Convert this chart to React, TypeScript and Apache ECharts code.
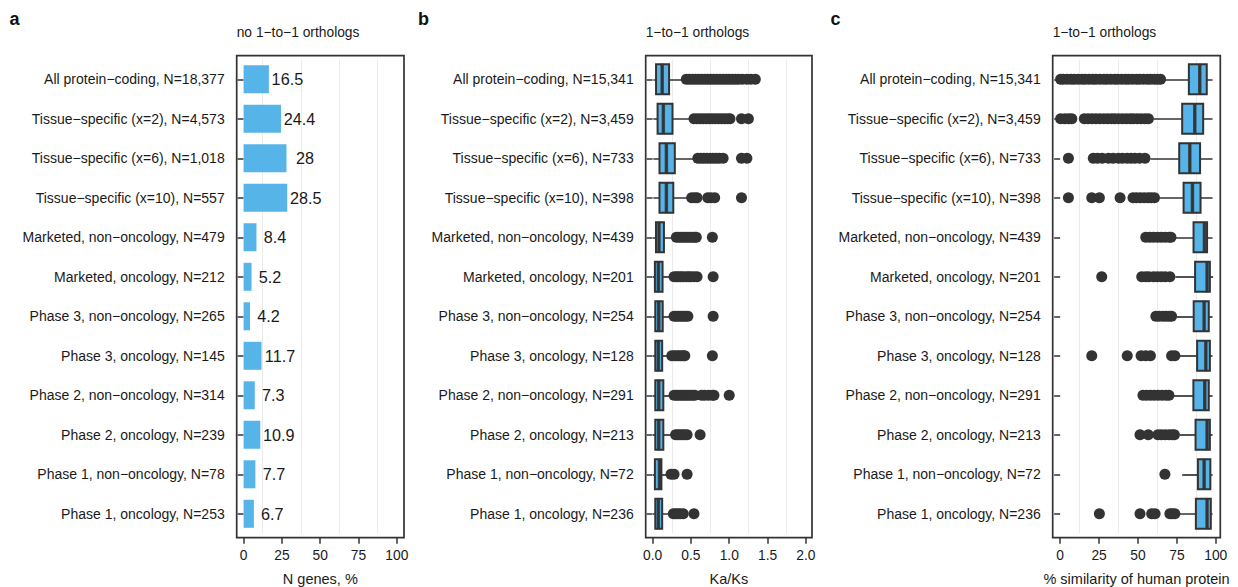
import React, { useEffect, useRef } from 'react';
import * as echarts from 'echarts';

// ---------- data ----------
const catsA = [
  'All protein−coding, N=18,377',
  'Tissue−specific (x=2), N=4,573',
  'Tissue−specific (x=6), N=1,018',
  'Tissue−specific (x=10), N=557',
  'Marketed, non−oncology, N=479',
  'Marketed, oncology, N=212',
  'Phase 3, non−oncology, N=265',
  'Phase 3, oncology, N=145',
  'Phase 2, non−oncology, N=314',
  'Phase 2, oncology, N=239',
  'Phase 1, non−oncology, N=78',
  'Phase 1, oncology, N=253',
];
const catsBC = [
  'All protein−coding, N=15,341',
  'Tissue−specific (x=2), N=3,459',
  'Tissue−specific (x=6), N=733',
  'Tissue−specific (x=10), N=398',
  'Marketed, non−oncology, N=439',
  'Marketed, oncology, N=201',
  'Phase 3, non−oncology, N=254',
  'Phase 3, oncology, N=128',
  'Phase 2, non−oncology, N=291',
  'Phase 2, oncology, N=213',
  'Phase 1, non−oncology, N=72',
  'Phase 1, oncology, N=236',
];
const pctNoOrtholog = [16.5, 24.4, 28, 28.5, 8.4, 5.2, 4.2, 11.7, 7.3, 10.9, 7.7, 6.7];

// [lower whisker, Q1, median, Q3, upper whisker]
const kaksBox = [
  [0.01, 0.045, 0.125, 0.215, 0.43],
  [0.01, 0.065, 0.14, 0.26, 0.52],
  [0.01, 0.09, 0.18, 0.29, 0.55],
  [0.01, 0.09, 0.18, 0.27, 0.47],
  [0.005, 0.044, 0.083, 0.148, 0.29],
  [0.005, 0.03, 0.075, 0.13, 0.26],
  [0.005, 0.035, 0.08, 0.132, 0.26],
  [0.005, 0.035, 0.075, 0.125, 0.24],
  [0.005, 0.035, 0.08, 0.14, 0.27],
  [0.005, 0.035, 0.08, 0.14, 0.28],
  [0.005, 0.03, 0.09, 0.115, 0.2],
  [0.005, 0.035, 0.075, 0.125, 0.25],
];
const kaksOutliers = [
  [0.44, 0.48, 0.52, 0.56, 0.6, 0.64, 0.68, 0.72, 0.76, 0.8, 0.84, 0.88, 0.92, 0.96, 1.0, 1.04, 1.08, 1.12, 1.17, 1.23, 1.28, 1.34],
  [0.54, 0.58, 0.62, 0.66, 0.7, 0.74, 0.78, 0.82, 0.86, 0.9, 0.94, 0.98, 1.01, 1.16, 1.25],
  [0.59, 0.63, 0.67, 0.71, 0.75, 0.79, 0.83, 0.87, 0.92, 1.16, 1.23],
  [0.51, 0.55, 0.58, 0.72, 0.76, 0.81, 1.16],
  [0.31, 0.34, 0.37, 0.4, 0.43, 0.46, 0.49, 0.52, 0.55, 0.57, 0.78],
  [0.28, 0.31, 0.34, 0.37, 0.4, 0.44, 0.47, 0.5, 0.54, 0.58, 0.79],
  [0.28, 0.31, 0.34, 0.37, 0.4, 0.43, 0.46, 0.79],
  [0.25, 0.28, 0.31, 0.34, 0.37, 0.4, 0.42, 0.78],
  [0.28, 0.31, 0.34, 0.37, 0.4, 0.43, 0.46, 0.49, 0.52, 0.55, 0.64, 0.68, 0.73, 0.78, 0.8, 1.0],
  [0.3, 0.33, 0.36, 0.39, 0.42, 0.45, 0.62],
  [0.24, 0.28, 0.45],
  [0.27, 0.3, 0.33, 0.36, 0.4, 0.54],
];
const simBox = [
  [65.5, 82.7, 89.7, 94.2, 97.9],
  [60, 78.4, 86.5, 91.9, 97.9],
  [58, 76.5, 83.3, 89.9, 97.9],
  [64, 79.3, 85, 90.2, 97.9],
  [74, 85.7, 92.7, 94.4, 97.9],
  [74, 86.7, 94.4, 96.2, 98.3],
  [75, 85.8, 92.5, 95.5, 97.9],
  [77, 88, 93.6, 96.2, 97.9],
  [73, 85.6, 92.9, 95.5, 97.9],
  [77, 87, 94.4, 96.2, 97.9],
  [78.4, 88.5, 92.5, 96.5, 97.9],
  [76, 87.2, 94.4, 96.8, 97.9],
];
const simOutliers = [
  [0.3, 2, 4.5, 7, 9, 11.5, 14, 16, 18.5, 21, 23, 25.5, 28, 30, 32.5, 35, 37, 39.5, 42, 44, 46.5, 49, 51, 53.5, 56, 58, 60.5, 62.5, 64.5],
  [0.3, 3, 5.5, 7.5, 15.5, 18, 20.5, 23, 25.5, 28, 30.5, 33, 35, 37.5, 40, 42.5, 45, 47, 49.5, 52, 54.5, 56.7],
  [5.3, 21.3, 24, 27, 31, 34, 37.5, 40, 43, 45.5, 48, 51, 54.5],
  [5.3, 20.3, 25.2, 38.5, 46.8, 49, 51.5, 54, 56.5, 58.5, 60.6],
  [55, 57.5, 60, 62.5, 65, 67.5, 70, 71.2],
  [26.7, 52.4, 55, 57, 60, 62.5, 65, 67.5, 70.5],
  [61.5, 63.5, 66, 68, 70, 71.6],
  [20.3, 43.1, 52, 55, 58, 71.6, 73.7],
  [53.2, 55.5, 58, 60.5, 63, 65.5, 68, 69.9],
  [51.3, 56.6, 62.8, 65, 67.5, 70, 72, 73.4],
  [67.3],
  [25.2, 51.3, 58.8, 61, 70.5, 72, 73.7],
];

const ticksA = [0, 25, 50, 75, 100];
const ticksB = [0, 0.5, 1, 1.5, 2];
const ticksC = [0, 25, 50, 75, 100];
const gridLinesA = [12.5, 37.5, 62.5, 87.5];
const gridLinesB = [0.25, 0.75, 1.25, 1.75];
const gridLinesC = [12.5, 37.5, 62.5, 87.5];

const panelTitles = ['no 1−to−1 orthologs', '1−to−1 orthologs', '1−to−1 orthologs'];
const axisTitles = ['N genes, %', 'Ka/Ks', '% similarity of human protein'];
const panelLetters = ['a', 'b', 'c'];

// ---------- layout ----------
const FONT = '"Liberation Sans", Arial, Helvetica, sans-serif';
const DARK = '#333333';
const TEXT = '#1a1a1a';
const BLUE = '#56B4E9';
const FRAME_TOP = 55.7;
const FRAME_H = 482;
const GRID_TOP = 59.55;
const GRID_H = 474;
const panels = [
  { left: 236.7, width: 167.3, min: -4.5, max: 104.7, ticks: ticksA, lines: gridLinesA, fmt: (v: number) => String(v), letterX: 9.5 },
  { left: 645.7, width: 166.3, min: -0.09, max: 2.08, ticks: ticksB, lines: gridLinesB, fmt: (v: number) => v.toFixed(1), letterX: 418 },
  { left: 1052.7, width: 167.6, min: -4.8, max: 102.9, ticks: ticksC, lines: gridLinesC, fmt: (v: number) => String(v), letterX: 830.5 },
];

function buildOption() {
  const grid = panels.map((p) => ({
    left: p.left,
    top: GRID_TOP,
    width: p.width,
    height: GRID_H,
    containLabel: false,
    outerBoundsMode: 'none',
  }));
  const xPrimary = panels.map((p, i) => ({
    type: 'value',
    gridIndex: i,
    min: p.min,
    max: p.max,
    position: 'bottom',
    offset: FRAME_TOP + FRAME_H - (GRID_TOP + GRID_H),
    axisLine: { show: false },
    axisTick: { show: true, length: 6, customValues: p.ticks, lineStyle: { color: DARK, width: 1.5 } },
    axisLabel: { customValues: p.ticks, formatter: p.fmt, margin: 11, fontSize: 13.8, color: TEXT, fontFamily: FONT },
    splitLine: { show: false },
    name: axisTitles[i],
    nameLocation: 'middle',
    nameGap: 34,
    nameTextStyle: { fontSize: 14.5, color: TEXT, fontFamily: FONT },
  }));
  const xGrid = panels.map((p, i) => ({
    type: 'value',
    gridIndex: i,
    min: p.min,
    max: p.max,
    position: 'top',
    axisLine: { show: false },
    axisTick: { show: false, customValues: p.lines },
    axisLabel: { show: false },
    splitLine: { show: true, lineStyle: { color: '#EBEBEB', width: 1 } },
  }));
  const yAxis = panels.map((p, i) => ({
    type: 'category',
    gridIndex: i,
    data: i === 0 ? catsA : catsBC,
    inverse: true,
    axisLine: { show: false },
    axisTick: { show: true, alignWithLabel: true, length: 6, lineStyle: { color: DARK, width: 1.5 } },
    axisLabel: { interval: 0, margin: 12, fontSize: 14, color: TEXT, fontFamily: FONT },
    splitLine: { show: false },
  }));

  const series: any[] = [
    {
      type: 'bar',
      xAxisIndex: 0,
      yAxisIndex: 0,
      data: pctNoOrtholog,
      barWidth: 28,
      itemStyle: { color: BLUE },
      label: {
        show: true,
        position: 'right',
        distance: 18.5,
        align: 'center',
        fontSize: 16.2,
        color: TEXT,
        fontFamily: FONT,
      },
      z: 3,
    },
  ];

  const boxSets = [
    { box: kaksBox, out: kaksOutliers, ax: 1 },
    { box: simBox, out: simOutliers, ax: 2 },
  ];
  boxSets.forEach(({ box, out, ax }) => {
    // whiskers
    const whiskers: any[] = [];
    box.forEach((d, i) => {
      whiskers.push({ coords: [[d[0], i], [d[1], i]] });
      whiskers.push({ coords: [[d[3], i], [d[4], i]] });
    });
    series.push({
      type: 'lines',
      coordinateSystem: 'cartesian2d',
      xAxisIndex: ax,
      yAxisIndex: ax,
      polyline: false,
      symbol: ['none', 'none'],
      data: whiskers,
      lineStyle: { color: DARK, width: 1.7, opacity: 1, curveness: 0 },
      silent: true,
      z: 2,
    });
    // outliers
    series.push({
      type: 'scatter',
      xAxisIndex: ax,
      yAxisIndex: ax,
      data: out.flatMap((arr, i) => arr.map((v) => [v, i])),
      symbol: 'circle',
      symbolSize: 11,
      itemStyle: { color: DARK, opacity: 1 },
      z: 3,
    });
    // boxes (Q1..Q3)
    series.push({
      type: 'boxplot',
      xAxisIndex: ax,
      yAxisIndex: ax,
      data: box.map((d) => [d[1], d[1], d[2], d[3], d[3]]),
      boxWidth: [30, 30],
      itemStyle: { color: BLUE, borderColor: DARK, borderWidth: 2 },
      z: 4,
    });
    // medians (thicker)
    series.push({
      type: 'scatter',
      xAxisIndex: ax,
      yAxisIndex: ax,
      data: box.map((d, i) => [d[2], i]),
      symbol: 'rect',
      symbolSize: [3.5, 31],
      itemStyle: { color: DARK },
      z: 5,
    });
  });

  const graphic: any[] = [];
  panels.forEach((p, i) => {
    graphic.push({
      type: 'rect',
      shape: { x: p.left, y: FRAME_TOP, width: p.width, height: FRAME_H },
      style: { fill: 'none', stroke: DARK, lineWidth: 1.7 },
      z: 10,
      silent: true,
    });
    graphic.push({
      type: 'text',
      x: p.left,
      y: 32,
      style: { text: panelTitles[i], fontSize: 13.8, fontFamily: FONT, fill: TEXT, align: 'left', verticalAlign: 'middle' },
    });
    graphic.push({
      type: 'text',
      x: p.letterX,
      y: 18.5,
      style: { text: panelLetters[i], fontSize: 18, fontWeight: 'bold', fontFamily: FONT, fill: '#111', align: 'left', verticalAlign: 'middle' },
    });
  });

  return {
    animation: false,
    backgroundColor: '#ffffff',
    textStyle: { fontFamily: FONT },
    grid,
    xAxis: [...xPrimary, ...xGrid],
    yAxis,
    series,
    graphic,
  };
}

export default function App() {
  const ref = useRef<HTMLDivElement>(null);
  useEffect(() => {
    if (!ref.current) return;
    const chart = echarts.init(ref.current, undefined, { renderer: 'svg' });
    chart.setOption(buildOption() as any);
    return () => chart.dispose();
  }, []);
  return (
    <div
      ref={ref}
      style={{ position: 'absolute', left: 0, top: 0, width: 1238, height: 587, background: '#fff' }}
    />
  );
}
